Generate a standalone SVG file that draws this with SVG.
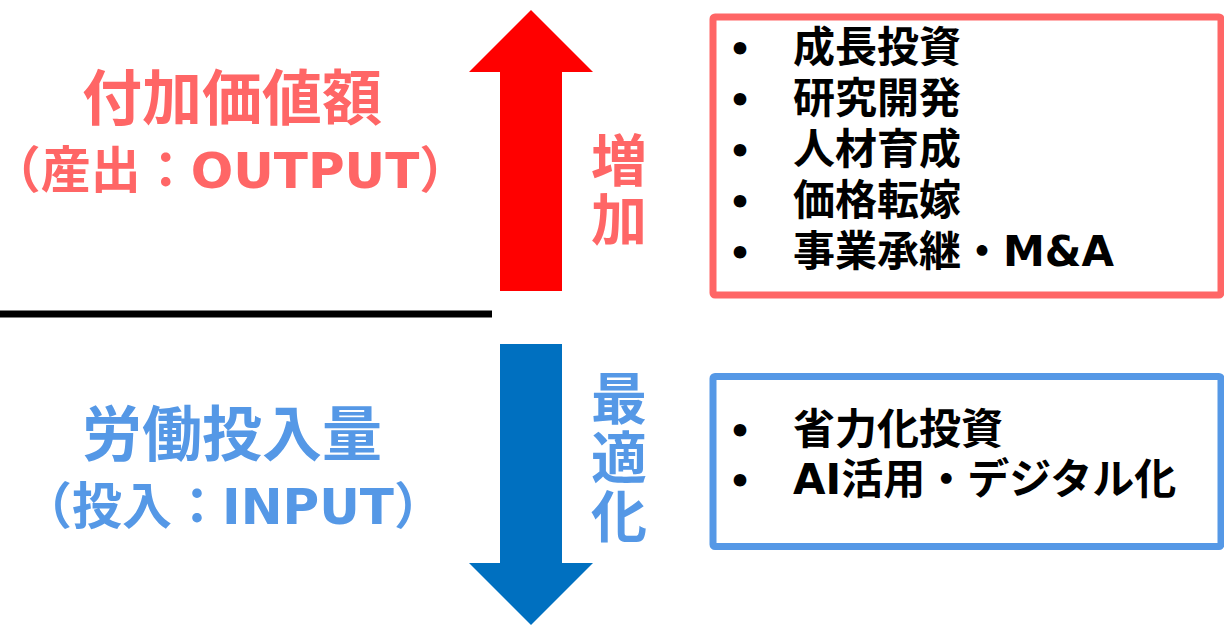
<svg xmlns="http://www.w3.org/2000/svg" width="1224" height="627" viewBox="0 0 1224 627">
<style>
.t{font-family:"DejaVu Sans","Noto Sans CJK JP",sans-serif;font-weight:bold}
.red{fill:#FF6666}
.blue{fill:#5598E6}
.big{font-size:60px}
.sub{font-size:50px}
.vert{font-size:56px}
.item{font-size:42px;fill:#000}
.bul{font-size:36px;fill:#000}
.box{fill:#fff;stroke-width:7}
</style>
<rect width="1224" height="627" fill="#fff"/>
<g id="connectors">
<polygon points="531,10 593,72 562,72 562,291 500,291 500,72 469,72" fill="#FF0000"/>
<polygon points="531,625 593,563 562,563 562,344 500,344 500,563 469,563" fill="#0070C0"/>
<rect x="0" y="310.5" width="492" height="7" fill="#000"/>
</g>
<g id="output-label">
<text class="t red big" x="232" y="120" text-anchor="middle">付加価値額</text>
<text class="t red sub" x="230" y="188" text-anchor="middle">（産出：OUTPUT）</text>
</g>
<g id="input-label">
<text class="t blue big" x="232" y="456" text-anchor="middle">労働投入量</text>
<text class="t blue sub" x="233" y="524" text-anchor="middle">（投入：INPUT）</text>
</g>
<g id="increase-label">
<text class="t red vert" x="619" y="181" text-anchor="middle">増</text>
<text class="t red vert" x="619" y="240" text-anchor="middle">加</text>
</g>
<g id="optimize-label">
<text class="t blue vert" x="619" y="419" text-anchor="middle">最</text>
<text class="t blue vert" x="619" y="478" text-anchor="middle">適</text>
<text class="t blue vert" x="619" y="537" text-anchor="middle">化</text>
</g>
<g id="output-box">
<rect class="box" x="713" y="17" width="508" height="278" rx="2" stroke="#FF6666"/>
<text class="t bul" x="740" y="62" text-anchor="middle">•</text>
<text class="t item" x="793" y="62">成長投資</text>
<text class="t bul" x="740" y="113" text-anchor="middle">•</text>
<text class="t item" x="793" y="113">研究開発</text>
<text class="t bul" x="740" y="164" text-anchor="middle">•</text>
<text class="t item" x="793" y="164">人材育成</text>
<text class="t bul" x="740" y="215" text-anchor="middle">•</text>
<text class="t item" x="793" y="215">価格転嫁</text>
<text class="t bul" x="740" y="266" text-anchor="middle">•</text>
<text class="t item" x="793" y="266">事業承継・M&amp;A</text>
</g>
<g id="input-box">
<rect class="box" x="713" y="376.5" width="508" height="170" rx="2" stroke="#5598E6"/>
<text class="t bul" x="740" y="444" text-anchor="middle">•</text>
<text class="t item" x="793" y="444">省力化投資</text>
<text class="t bul" x="740" y="494" text-anchor="middle">•</text>
<text class="t item" x="793" y="494">AI活用・デジタル化</text>
</g>
</svg>
